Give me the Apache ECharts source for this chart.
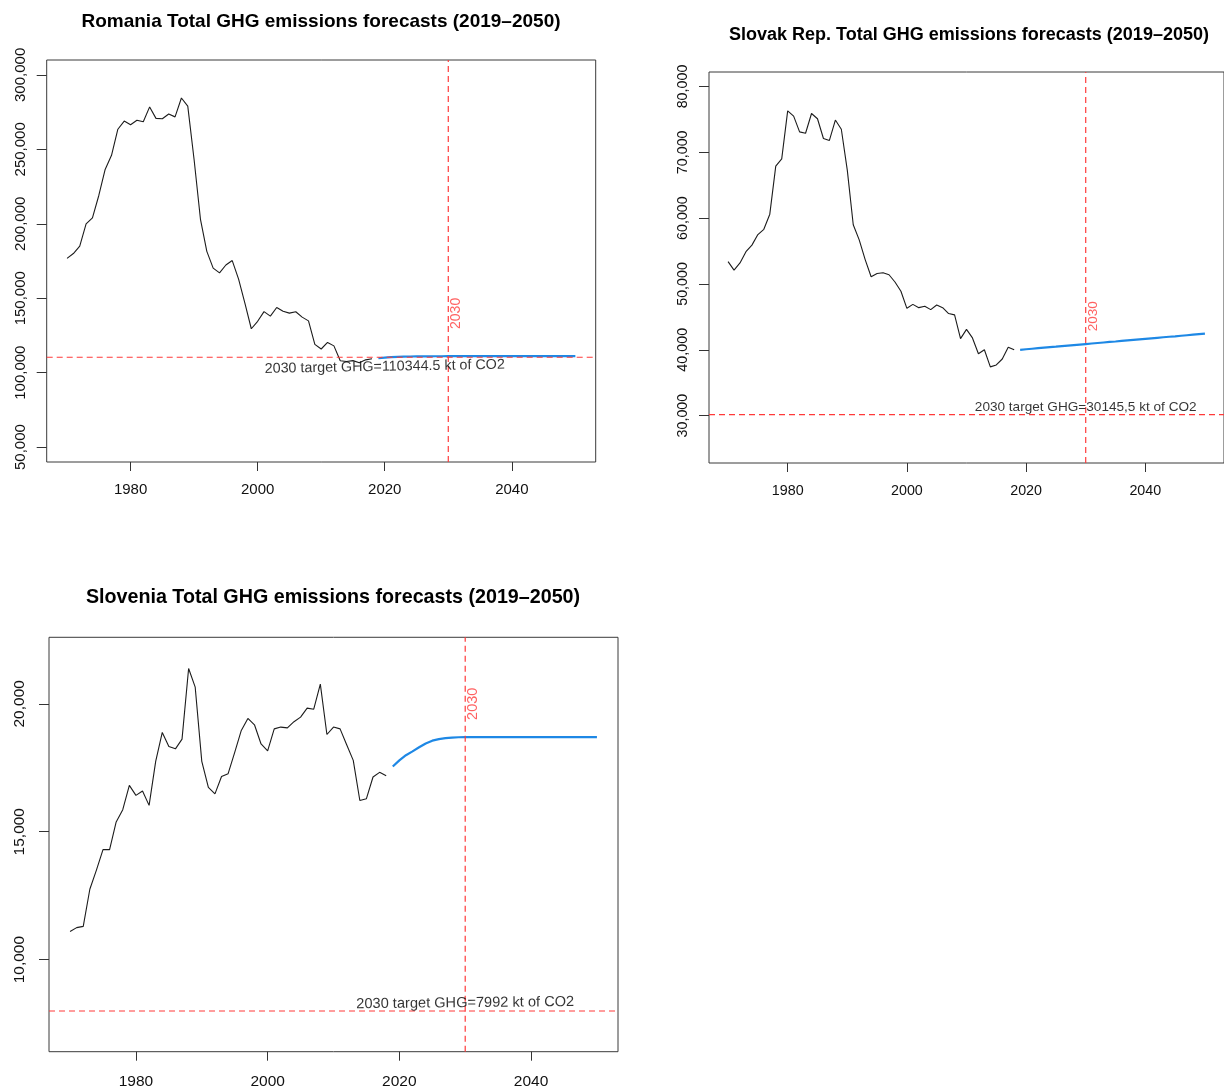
<!DOCTYPE html>
<html>
<head>
<meta charset="utf-8">
<title>Total GHG emissions forecasts</title>
<script src="https://cdn.jsdelivr.net/npm/echarts@6/dist/echarts.min.js"></script>
<style>
  html, body { margin: 0; padding: 0; background: #ffffff; }
  #chart { width: 1224px; height: 1090px; }
</style>
</head>
<body>
<div id="chart"></div>
<script>
// ---- data: total GHG emissions, kt of CO2 equivalent ----
const histYears = [1970, 1971, 1972, 1973, 1974, 1975, 1976, 1977, 1978, 1979,
  1980, 1981, 1982, 1983, 1984, 1985, 1986, 1987, 1988, 1989,
  1990, 1991, 1992, 1993, 1994, 1995, 1996, 1997, 1998, 1999,
  2000, 2001, 2002, 2003, 2004, 2005, 2006, 2007, 2008, 2009,
  2010, 2011, 2012, 2013, 2014, 2015, 2016, 2017, 2018];
const forecastYears = [2019, 2020, 2021, 2022, 2023, 2024, 2025, 2026, 2027, 2028,
  2029, 2030, 2031, 2032, 2033, 2034, 2035, 2036, 2037, 2038,
  2039, 2040, 2041, 2042, 2043, 2044, 2045, 2046, 2047, 2048, 2049, 2050];
const xTickYears = [1980, 2000, 2020, 2040];
const targetYear = 2030;

// Romania
const romaniaHist = [176800, 180000, 185000, 200000, 204000, 219000, 236500, 246000, 263500, 269000,
  266500, 269500, 268500, 278500, 270800, 270500, 273700, 271800, 284500, 279000,
  243000, 203000, 181500, 170200, 167000, 172300, 175300, 162800, 146500, 129500,
  134500, 141000, 138000, 143800, 141300, 140000, 140900, 137300, 134800, 119000,
  115900, 120300, 118000, 108000, 107500, 108100, 106600, 108600, 109300];
const romaniaForecast = [109700, 110100, 110400, 110600, 110750, 110850, 110920, 110970, 111000, 111020,
  111040, 111050, 111060, 111070, 111075, 111080, 111085, 111090, 111090, 111095,
  111095, 111100, 111100, 111100, 111100, 111100, 111100, 111100, 111100, 111100, 111100, 111100];
const romaniaTarget = 110344.5;
const romaniaYTicks = [50000, 100000, 150000, 200000, 250000, 300000];

// Slovak Republic
const slovakiaHist = [53400, 52100, 53200, 54900, 55900, 57500, 58300, 60600, 67900, 69000,
  76300, 75500, 73100, 72900, 75900, 75100, 72100, 71800, 74900, 73500,
  67300, 59000, 56700, 53700, 51100, 51600, 51700, 51400, 50300, 48900,
  46300, 46900, 46400, 46600, 46100, 46800, 46400, 45500, 45300, 41700,
  43100, 41800, 39400, 40000, 37400, 37700, 38600, 40400, 40000];
const slovakiaForecast = [40000, 40080, 40160, 40240, 40320, 40400, 40470, 40550, 40630, 40710,
  40790, 40870, 40950, 41030, 41110, 41190, 41260, 41340, 41420, 41500,
  41580, 41660, 41740, 41820, 41900, 41980, 42050, 42130, 42210, 42290, 42370, 42450];
const slovakiaTarget = 30145.5;
const slovakiaYTicks = [30000, 40000, 50000, 60000, 70000, 80000];

// Slovenia
const sloveniaHist = [11100, 11250, 11300, 12750, 13500, 14300, 14300, 15380, 15860, 16810,
  16420, 16590, 16030, 17750, 18880, 18330, 18240, 18620, 21380, 20650,
  17750, 16730, 16480, 17160, 17270, 18100, 18960, 19430, 19180, 18430,
  18160, 19020, 19090, 19060, 19300, 19480, 19830, 19790, 20770, 18800,
  19090, 19020, 18400, 17790, 16220, 16290, 17140, 17320, 17190];
const sloveniaForecast = [17550, 17790, 17990, 18140, 18300, 18450, 18560, 18620, 18655, 18680,
  18692, 18700, 18700, 18700, 18700, 18700, 18700, 18700, 18700, 18700,
  18700, 18700, 18700, 18700, 18700, 18700, 18700, 18700, 18700, 18700, 18700, 18700];
const sloveniaTarget = 7992;
const sloveniaYTicks = [10000, 15000, 20000];

// ---- panel layout ----
const FONT = '"Liberation Sans", Arial, Helvetica, sans-serif';
const RED = '#ff3a3a';
const X_MIN = 1966.8, X_MAX = 2053.2;
const panels = [
  {
    title: 'Romania Total GHG emissions forecasts (2019\u20132050)',
    hist: romaniaHist, forecast: romaniaForecast, target: romaniaTarget,
    targetText: '2030 target GHG=110344.5 kt of CO2',
    yTicks: romaniaYTicks, yMin: 40000, yMax: 310000,
    grid: { left: 46.7, top: 60, width: 549, height: 402 },
    titleXY: [321, 22], titleSize: 19, tickSize: 15, yMargin: 18, xMargin: 20,
    targetTextAt: [2020, 103900], targetTextRotate: 1, targetTextSize: 14.3,
    yearTextY: 139800, yearTextSize: 14
  },
  {
    title: 'Slovak Rep. Total GHG emissions forecasts (2019\u20132050)',
    hist: slovakiaHist, forecast: slovakiaForecast, target: slovakiaTarget,
    targetText: '2030 target GHG=30145,5 kt of CO2',
    yTicks: slovakiaYTicks, yMin: 22800, yMax: 82200,
    grid: { left: 709, top: 72, width: 520, height: 391 },
    titleXY: [969, 35], titleSize: 18, tickSize: 14.3, yMargin: 19, xMargin: 21,
    targetTextAt: [2030, 31300], targetTextRotate: 0, targetTextSize: 13.6,
    yearTextY: 45100, yearTextSize: 13.5
  },
  {
    title: 'Slovenia Total GHG emissions forecasts (2019\u20132050)',
    hist: sloveniaHist, forecast: sloveniaForecast, target: sloveniaTarget,
    targetText: '2030 target GHG=7992 kt of CO2',
    yTicks: sloveniaYTicks, yMin: 6400, yMax: 22600,
    grid: { left: 49, top: 637.3, width: 569, height: 414.4 },
    titleXY: [333, 598], titleSize: 19.7, tickSize: 15.5, yMargin: 21, xMargin: 22,
    targetTextAt: [2030, 8300], targetTextRotate: 0.6, targetTextSize: 14.6,
    yearTextY: 20000, yearTextSize: 14.5
  }
];

const pairs = (xs, ys) => xs.map((x, i) => [x, ys[i]]);
const guideStyle = { color: RED, width: 1.2, type: [6, 4], opacity: 1 };

const option = {
  animation: false,
  backgroundColor: '#ffffff',
  textStyle: { fontFamily: FONT },
  grid: [], xAxis: [], yAxis: [], series: [], graphic: []
};

panels.forEach((p, i) => {
  option.grid.push(Object.assign({
    show: true, borderColor: '#3a3a3a', borderWidth: 1, backgroundColor: 'transparent',
    containLabel: false
  }, p.grid));

  option.xAxis.push({
    type: 'value', gridIndex: i, min: X_MIN, max: X_MAX,
    axisLine: { show: false },
    splitLine: { show: false },
    axisTick: { show: true, inside: false, length: 9, customValues: xTickYears,
      lineStyle: { color: '#333', width: 1 } },
    axisLabel: { show: true, customValues: xTickYears, margin: p.xMargin,
      color: '#111', fontSize: p.tickSize, fontFamily: FONT,
      formatter: v => String(v) }
  });

  option.yAxis.push({
    type: 'value', gridIndex: i, min: p.yMin, max: p.yMax,
    axisLine: { show: false },
    splitLine: { show: false },
    axisTick: { show: true, inside: false, length: 10, customValues: p.yTicks,
      lineStyle: { color: '#333', width: 1 } },
    axisLabel: { show: true, customValues: p.yTicks, rotate: 90, margin: p.yMargin,
      color: '#111', fontSize: p.tickSize, fontFamily: FONT,
      formatter: v => Number(v).toLocaleString('en-US') }
  });

  // observed emissions
  option.series.push({
    type: 'line', xAxisIndex: i, yAxisIndex: i, data: pairs(histYears, p.hist),
    showSymbol: false, symbol: 'none', silent: true,
    lineStyle: { color: '#1c1c1c', width: 1.1 }, z: 3
  });

  // forecast path
  option.series.push({
    type: 'line', xAxisIndex: i, yAxisIndex: i, data: pairs(forecastYears, p.forecast),
    showSymbol: false, symbol: 'none', silent: true, smooth: false,
    lineStyle: { color: '#1e88e5', width: 2.2 }, z: 4
  });

  // 2030 target level (horizontal guide across the whole plot)
  option.series.push({
    type: 'line', xAxisIndex: i, yAxisIndex: i, silent: true, z: 5,
    showSymbol: false, symbol: 'none',
    data: [[X_MIN, p.target], [X_MAX, p.target]],
    lineStyle: guideStyle, itemStyle: { color: RED }
  });

  // target year (vertical guide)
  option.series.push({
    type: 'line', xAxisIndex: i, yAxisIndex: i, silent: true, z: 5,
    showSymbol: false, symbol: 'none',
    data: [[targetYear, p.yMin], [targetYear, p.yMax]],
    lineStyle: guideStyle, itemStyle: { color: RED }
  });

  // annotations
  option.series.push({
    type: 'scatter', xAxisIndex: i, yAxisIndex: i, silent: true, z: 6,
    symbolSize: 0,
    data: [
      { value: p.targetTextAt,
        label: { show: true, position: 'inside', formatter: p.targetText,
          color: '#000', fontSize: p.targetTextSize, fontFamily: FONT,
          rotate: p.targetTextRotate } },
      { value: [targetYear, p.yearTextY],
        label: { show: true, position: 'inside', formatter: String(targetYear),
          color: RED, fontSize: p.yearTextSize, fontFamily: FONT,
          rotate: 90, offset: [0, 8] } }
    ]
  });

  option.graphic.push({
    type: 'text', x: p.titleXY[0], y: p.titleXY[1], silent: true,
    style: { text: p.title, fill: '#000', font: 'bold ' + p.titleSize + 'px ' + FONT,
      textAlign: 'center', textVerticalAlign: 'middle' }
  });
});

const chart = echarts.init(document.getElementById('chart'), null, { renderer: 'canvas' });
chart.setOption(option);
</script>
</body>
</html>
